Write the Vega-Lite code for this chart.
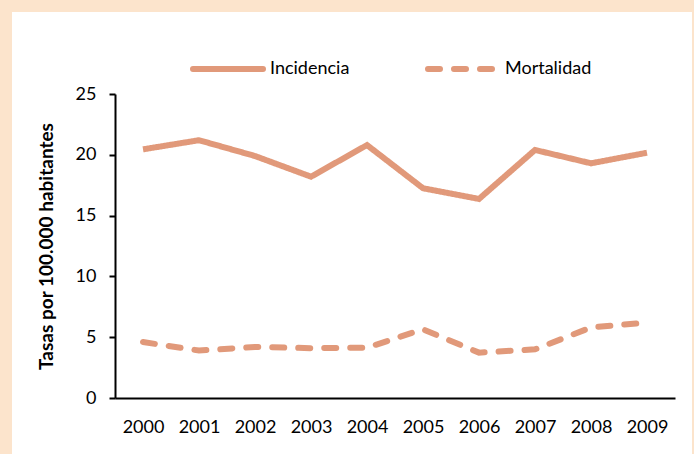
{
  "$schema": "https://vega.github.io/schema/vega-lite/v6.json",
  "width": 680,
  "height": 442,
  "autosize": {"type": "none"},
  "padding": {"left": 12, "top": 12, "right": 2, "bottom": 0},
  "background": "#FCE4CC",
  "config": {"view": {"fill": "white", "stroke": null}, "font": "Lato"},
  "data": {
    "values": [
      {"year": "2000", "series": "Incidencia", "value": 20.45},
      {"year": "2001", "series": "Incidencia", "value": 21.2},
      {"year": "2002", "series": "Incidencia", "value": 19.9},
      {"year": "2003", "series": "Incidencia", "value": 18.2},
      {"year": "2004", "series": "Incidencia", "value": 20.8},
      {"year": "2005", "series": "Incidencia", "value": 17.25},
      {"year": "2006", "series": "Incidencia", "value": 16.37},
      {"year": "2007", "series": "Incidencia", "value": 20.4},
      {"year": "2008", "series": "Incidencia", "value": 19.3},
      {"year": "2009", "series": "Incidencia", "value": 20.17},
      {"year": "2000", "series": "Mortalidad", "value": 4.6},
      {"year": "2001", "series": "Mortalidad", "value": 3.9},
      {"year": "2002", "series": "Mortalidad", "value": 4.2},
      {"year": "2003", "series": "Mortalidad", "value": 4.1},
      {"year": "2004", "series": "Mortalidad", "value": 4.14},
      {"year": "2005", "series": "Mortalidad", "value": 5.65},
      {"year": "2006", "series": "Mortalidad", "value": 3.73},
      {"year": "2007", "series": "Mortalidad", "value": 4.0},
      {"year": "2008", "series": "Mortalidad", "value": 5.8},
      {"year": "2009", "series": "Mortalidad", "value": 6.2}
    ]
  },
  "encoding": {
    "x": {
      "field": "year",
      "type": "ordinal",
      "scale": {"type": "point", "range": [103, 663], "padding": 0.5},
      "axis": {
        "title": null,
        "labelAngle": 0,
        "ticks": false,
        "domainColor": "#000",
        "domainWidth": 2,
        "offset": -56,
        "labelFont": "Lato",
        "labelFontSize": 18,
        "labelColor": "#000",
        "labelPadding": 20
      }
    },
    "y": {
      "field": "value",
      "type": "quantitative",
      "scale": {"domain": [0, 25], "range": [386, 82], "nice": false},
      "axis": {
        "offset": -103,
        "values": [0, 5, 10, 15, 20, 25],
        "grid": false,
        "tickSize": 6,
        "tickWidth": 2,
        "tickColor": "#000",
        "domainColor": "#000",
        "domainWidth": 2,
        "labelFont": "Lato",
        "labelFontSize": 18,
        "labelColor": "#000",
        "labelPadding": 13,
        "title": "Tasas por 100.000 habitantes",
        "titleFont": "Lato",
        "titleFontSize": 19,
        "titleFontWeight": "bold",
        "titleColor": "#000",
        "titlePadding": 19
      }
    },
    "strokeDash": {
      "field": "series",
      "type": "nominal",
      "scale": {"domain": ["Incidencia", "Mortalidad"], "range": [[1, 0], [12, 14]]},
      "legend": {
        "orient": "none",
        "direction": "horizontal",
        "legendX": 178,
        "legendY": 19,
        "title": null,
        "padding": 0,
        "symbolType": "stroke",
        "symbolSize": 4900,
        "symbolStrokeWidth": 6,
        "symbolStrokeColor": "#E1997A",
        "labelFont": "Lato",
        "labelFontSize": 18,
        "labelColor": "#000",
        "labelOffset": 4,
        "columnPadding": 66,
        "encode": {"symbols": {"update": {"strokeCap": {"value": "round"}, "stroke": {"value": "#E1997A"}}}}
      }
    }
  },
  "layer": [
    {
      "transform": [{"filter": "datum.series === 'Incidencia'"}],
      "mark": {"type": "line", "strokeWidth": 6, "color": "#E1997A", "strokeCap": "butt"}
    },
    {
      "transform": [{"filter": "datum.series === 'Mortalidad'"}],
      "mark": {"type": "line", "strokeWidth": 6, "color": "#E1997A", "strokeCap": "round"}
    }
  ]
}
